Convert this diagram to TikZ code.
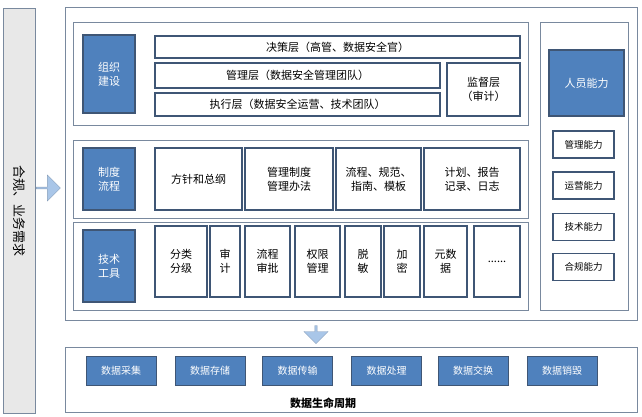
\documentclass[tikz,border=0pt]{standalone}
\usepackage{fontspec}
\setmainfont{Noto Sans CJK SC}
\usetikzlibrary{shapes.arrows}
\definecolor{blk}{HTML}{4F81BD}
\definecolor{edge}{HTML}{3F5675}
\definecolor{pale}{HTML}{A9C6E8}
\tikzset{
  panel/.style={draw=edge!70, line width=0.8pt, fill=white},
  cell/.style={draw=edge, line width=1.4pt, fill=white, align=center, font=\fontsize{11}{14}\selectfont},
  tag/.style={draw=edge, line width=1.4pt, fill=blk, text=white, align=center, font=\fontsize{11}{14}\selectfont},
  skill/.style={cell, minimum width=61pt, minimum height=27pt, font=\fontsize{9.5}{12}\selectfont}
}
\begin{document}
\begin{tikzpicture}[x=1pt, y=-1pt, inner sep=0pt]
\useasboundingbox (0,0) rectangle (642,417);
% left side
\node [panel, fill=gray!18, minimum width=32pt, minimum height=405pt] (need) at (19,210.5) {};
\node [rotate=-90, font=\fontsize{13}{14}\selectfont] (needtxt) at (need.center) {合规、业务需求};
\node [single arrow, fill=pale, draw=pale!80!black, minimum width=26pt, minimum height=24pt, single arrow head extend=3pt] (rarrow) at (48,188) {};
% main frame
\node [panel, line width=1pt, minimum width=572pt, minimum height=312pt] (frame) at (351,164) {};
% organisation
\node [panel, minimum width=455pt, minimum height=103pt] (row1) at (300.5,73.5) {};
\node [tag, minimum width=52pt, minimum height=78pt] (org) at (109,74) {组织\\建设};
\node [cell, minimum width=365pt, minimum height=22pt] (jc) at (337.5,47) {决策层（高管、数据安全官）};
\node [cell, minimum width=285pt, minimum height=25pt] (gl) at (297.5,75.5) {管理层（数据安全管理团队）};
\node [cell, minimum width=285pt, minimum height=23pt] (zx) at (297.5,104.5) {执行层（数据安全运营、技术团队）};
\node [cell, minimum width=73pt, minimum height=53pt] (jd) at (483.5,89.5) {监督层\\（审计）};
% policy
\node [panel, minimum width=455pt, minimum height=78pt] (row2) at (300.5,179) {};
\node [tag, minimum width=52pt, minimum height=62pt] (pol) at (109,179) {制度\\流程};
\node [cell, minimum width=87pt, minimum height=62pt] (p1) at (198.5,179) {方针和总纲};
\node [cell, minimum width=88pt, minimum height=62pt] (p2) at (289,179) {管理制度\\管理办法};
\node [cell, minimum width=85pt, minimum height=62pt] (p3) at (378.5,179) {流程、规范、\\指南、模板};
\node [cell, minimum width=96pt, minimum height=62pt] (p4) at (472,179) {计划、报告\\记录、日志};
% tools
\node [panel, minimum width=455pt, minimum height=88pt] (row3) at (300.5,266) {};
\node [tag, minimum width=52pt, minimum height=72pt] (tool) at (109,266) {技术\\工具};
\node [cell, minimum width=52pt, minimum height=71pt] (t1) at (181,261.5) {分类\\分级};
\node [cell, minimum width=30pt, minimum height=71pt] (t2) at (225,261.5) {审\\计};
\node [cell, minimum width=45pt, minimum height=71pt] (t3) at (267.5,261.5) {流程\\审批};
\node [cell, minimum width=45pt, minimum height=71pt] (t4) at (317.5,261.5) {权限\\管理};
\node [cell, minimum width=36pt, minimum height=71pt] (t5) at (363,261.5) {脱\\敏};
\node [cell, minimum width=36pt, minimum height=71pt] (t6) at (402,261.5) {加\\密};
\node [cell, minimum width=43pt, minimum height=71pt] (t7) at (445.5,261.5) {元数\\据};
\node [cell, minimum width=46pt, minimum height=71pt] (t8) at (497,261.5) {......};
% people
\node [panel, minimum width=88pt, minimum height=288pt] (row4) at (584,166) {};
\node [tag, minimum width=75pt, minimum height=66pt] (ppl) at (586.5,83) {人员能力};
\node [skill] (s1) at (583.5,144.5) {管理能力};
\node [skill] (s2) at (583.5,185.5) {运营能力};
\node [skill] (s3) at (583.5,227) {技术能力};
\node [skill] (s4) at (583.5,267) {合规能力};
% lifecycle
\node [single arrow, rotate=-90, fill=pale, draw=pale!80!black, minimum width=24pt, minimum height=18pt, single arrow head extend=2pt] (darrow) at (316,334) {};
\node [panel, line width=1pt, minimum width=572pt, minimum height=65pt] (life) at (351,379.5) {};
\foreach \name/\x/\txt in {l1/121/数据采集, l2/210/数据存储, l3/297.5/数据传输, l4/386.5/数据处理, l5/473/数据交换, l6/562/数据销毁}
  \node [tag, line width=1pt, minimum width=70pt, minimum height=29pt, font=\fontsize{10}{12}\selectfont] (\name) at (\x,370.5) {\txt};
\node [font=\bfseries\fontsize{11}{12}\selectfont] (lifetxt) at (323,403) {数据生命周期};
\end{tikzpicture}
\end{document}
